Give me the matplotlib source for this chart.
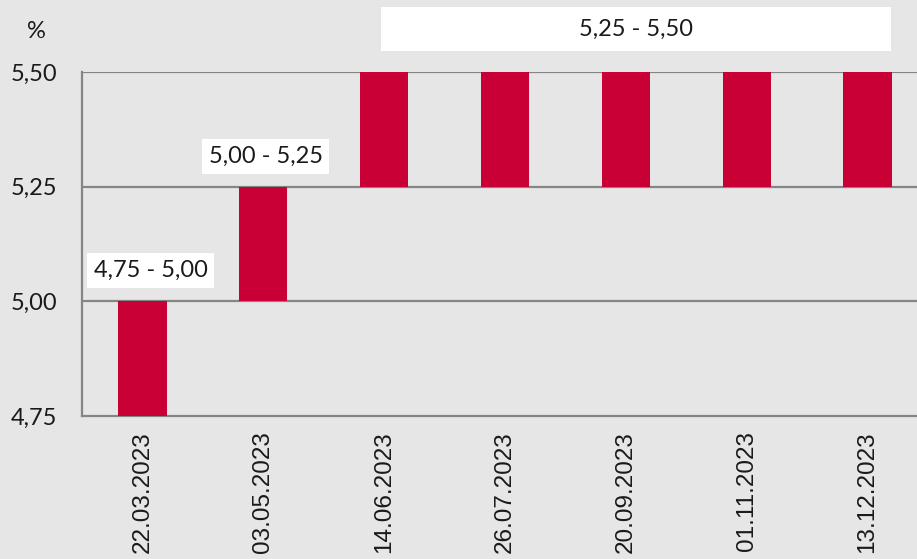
import matplotlib
matplotlib.use("Agg")
import matplotlib.pyplot as plt
from matplotlib.patches import Rectangle

# ── data ──
dates = ["22.03.2023", "03.05.2023", "14.06.2023", "26.07.2023",
         "20.09.2023", "01.11.2023", "13.12.2023"]
low = [4.75, 5.00, 5.25, 5.25, 5.25, 5.25, 5.25]
high = [5.00, 5.25, 5.50, 5.50, 5.50, 5.50, 5.50]
yticks = [4.75, 5.00, 5.25, 5.50]

BG = "#e6e6e6"
RED = "#c90035"
GRID = "#858585"
TXT = "#1a1a1a"
FS = 17

fig = plt.figure(figsize=(9.17, 5.59), dpi=100)
fig.patch.set_facecolor(BG)
ax = fig.add_axes([82 / 917, 143 / 559, 846 / 917, 344 / 559])
ax.set_facecolor(BG)

x = list(range(len(dates)))
heights = [h - l for h, l in zip(high, low)]
ax.bar(x, heights, bottom=low, width=0.4, color=RED, zorder=3)

ax.set_xlim(-0.5, len(dates) - 0.5)
ax.set_ylim(4.75, 5.50)
ax.set_yticks(yticks)
ax.set_yticklabels([f"{v:.2f}".replace(".", ",") for v in yticks],
                   fontfamily="Lato", fontsize=FS, color=TXT)
ax.set_xticks(x)
ax.set_xticklabels(dates, rotation=90, fontfamily="Liberation Sans",
                   fontsize=17.5, color=TXT, va="top")
ax.tick_params(axis="y", length=0, pad=18)
ax.tick_params(axis="x", length=0, pad=11)

for v in yticks[1:]:
    ax.axhline(v, color=GRID, lw=1.6, zorder=1)
for s in ["top", "right"]:
    ax.spines[s].set_visible(False)
for s in ["left", "bottom"]:
    ax.spines[s].set_color(GRID)
    ax.spines[s].set_linewidth(1.6)

# range labels
def rng(i):
    return f"{low[i]:.2f} - {high[i]:.2f}".replace(".", ",")

lbl_box = dict(facecolor="white", edgecolor="none", boxstyle="square,pad=0.28")
ax.text(0.07, 5.067, rng(0), ha="center", va="center", fontsize=FS,
        fontfamily="Lato", color=TXT, bbox=lbl_box, zorder=5)
ax.text(1.02, 5.316, rng(1), ha="center", va="center", fontsize=FS,
        fontfamily="Lato", color=TXT, bbox=lbl_box, zorder=5)

# wide box for the last five meetings
ax.add_patch(Rectangle((1.975, 5.546), 6.19 - 1.975, 5.642 - 5.546,
                       facecolor="white", edgecolor="none", clip_on=False, zorder=5))
ax.text((1.975 + 6.19) / 2, 5.594, rng(2), ha="center", va="center", fontsize=FS,
        fontfamily="Lato", color=TXT, zorder=6, clip_on=False)

fig.text(36 / 917, 1 - 31 / 559, "%", ha="center", va="center", fontsize=FS,
         fontfamily="Lato", color=TXT)

fig.savefig("out.png", dpi=100, facecolor=BG)
